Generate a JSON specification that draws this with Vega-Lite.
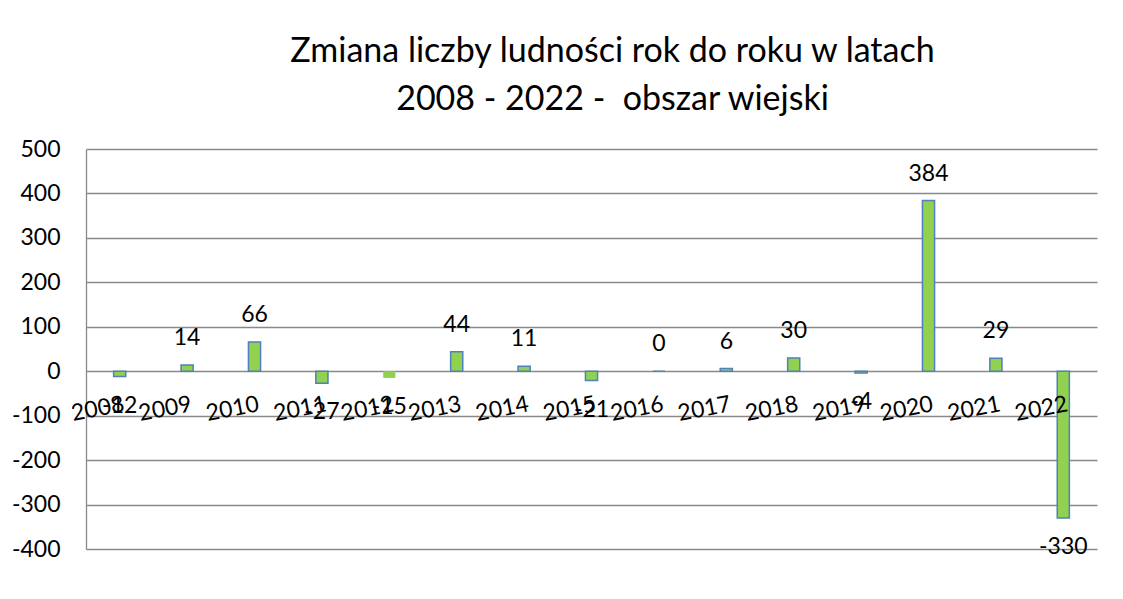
{
  "$schema": "https://vega.github.io/schema/vega-lite/v6.json",
  "width": 1011,
  "height": 400,
  "autosize": "none",
  "padding": {"left": 86, "top": 149, "right": 26, "bottom": 50},
  "background": "white",
  "title": {
    "text": ["Zmiana liczby ludności rok do roku w latach", "2008 - 2022 - \u00a0obszar wiejski"],
    "font": "Lato",
    "fontSize": 34,
    "fontWeight": "normal",
    "color": "#000000",
    "anchor": "middle",
    "frame": "group",
    "dx": 21,
    "offset": 21,
    "lineHeight": 48
  },
  "data": {
    "values": [
      {"year": "2008", "value": -12},
      {"year": "2009", "value": 14},
      {"year": "2010", "value": 66},
      {"year": "2011", "value": -27},
      {"year": "2012", "value": -15},
      {"year": "2013", "value": 44},
      {"year": "2014", "value": 11},
      {"year": "2015", "value": -21},
      {"year": "2016", "value": 0},
      {"year": "2017", "value": 6},
      {"year": "2018", "value": 30},
      {"year": "2019", "value": -4},
      {"year": "2020", "value": 384},
      {"year": "2021", "value": 29},
      {"year": "2022", "value": -330}
    ]
  },
  "encoding": {
    "x": {"field": "year", "type": "ordinal", "scale": {"paddingInner": 0, "paddingOuter": 0},
      "axis": null}
  },
  "layer": [
    {
      "mark": {"type": "bar", "fill": "#92D050", "stroke": "#4F81BD", "strokeWidth": 1.5, "width": {"band": 0.18}},
      "encoding": {
        "y": {"field": "value", "type": "quantitative",
          "scale": {"domain": [-400, 500], "nice": false, "zero": true},
          "axis": {"values": [-400, -300, -200, -100, 0, 100, 200, 300, 400, 500], "title": null,
            "labelExpr": "'' + datum.value",
            "ticks": false, "domain": true, "domainColor": "#898989", "domainWidth": 1.3,
            "grid": true, "gridColor": "#898989", "gridWidth": 1.3,
            "labelFont": "Lato", "labelFontSize": 23, "labelColor": "#000000", "labelPadding": 26}},
        "strokeOpacity": {"condition": {"test": "datum.year == '2012'", "value": 0}, "value": 1}
      }
    },
    {
      "transform": [{"filter": "datum.value >= 0"}],
      "mark": {"type": "text", "font": "Lato", "fontSize": 23, "color": "#000000", "baseline": "middle", "dy": -27},
      "encoding": {
        "y": {"field": "value", "type": "quantitative"},
        "text": {"field": "value", "type": "nominal"}
      }
    },
    {
      "transform": [{"filter": "datum.value < 0"}],
      "mark": {"type": "text", "font": "Lato", "fontSize": 23, "color": "#000000", "baseline": "middle", "dy": 29},
      "encoding": {
        "y": {"field": "value", "type": "quantitative"},
        "text": {"field": "value", "type": "nominal"}
      }
    },
    {
      "mark": {"type": "text", "font": "Lato", "fontSize": 23, "color": "#000000", "baseline": "middle", "align": "right", "angle": -11, "dy": 33, "dx": -2},
      "encoding": {
        "y": {"datum": 0, "type": "quantitative"},
        "text": {"field": "year"}
      }
    }
  ],
  "config": {"view": {"stroke": null}}
}
